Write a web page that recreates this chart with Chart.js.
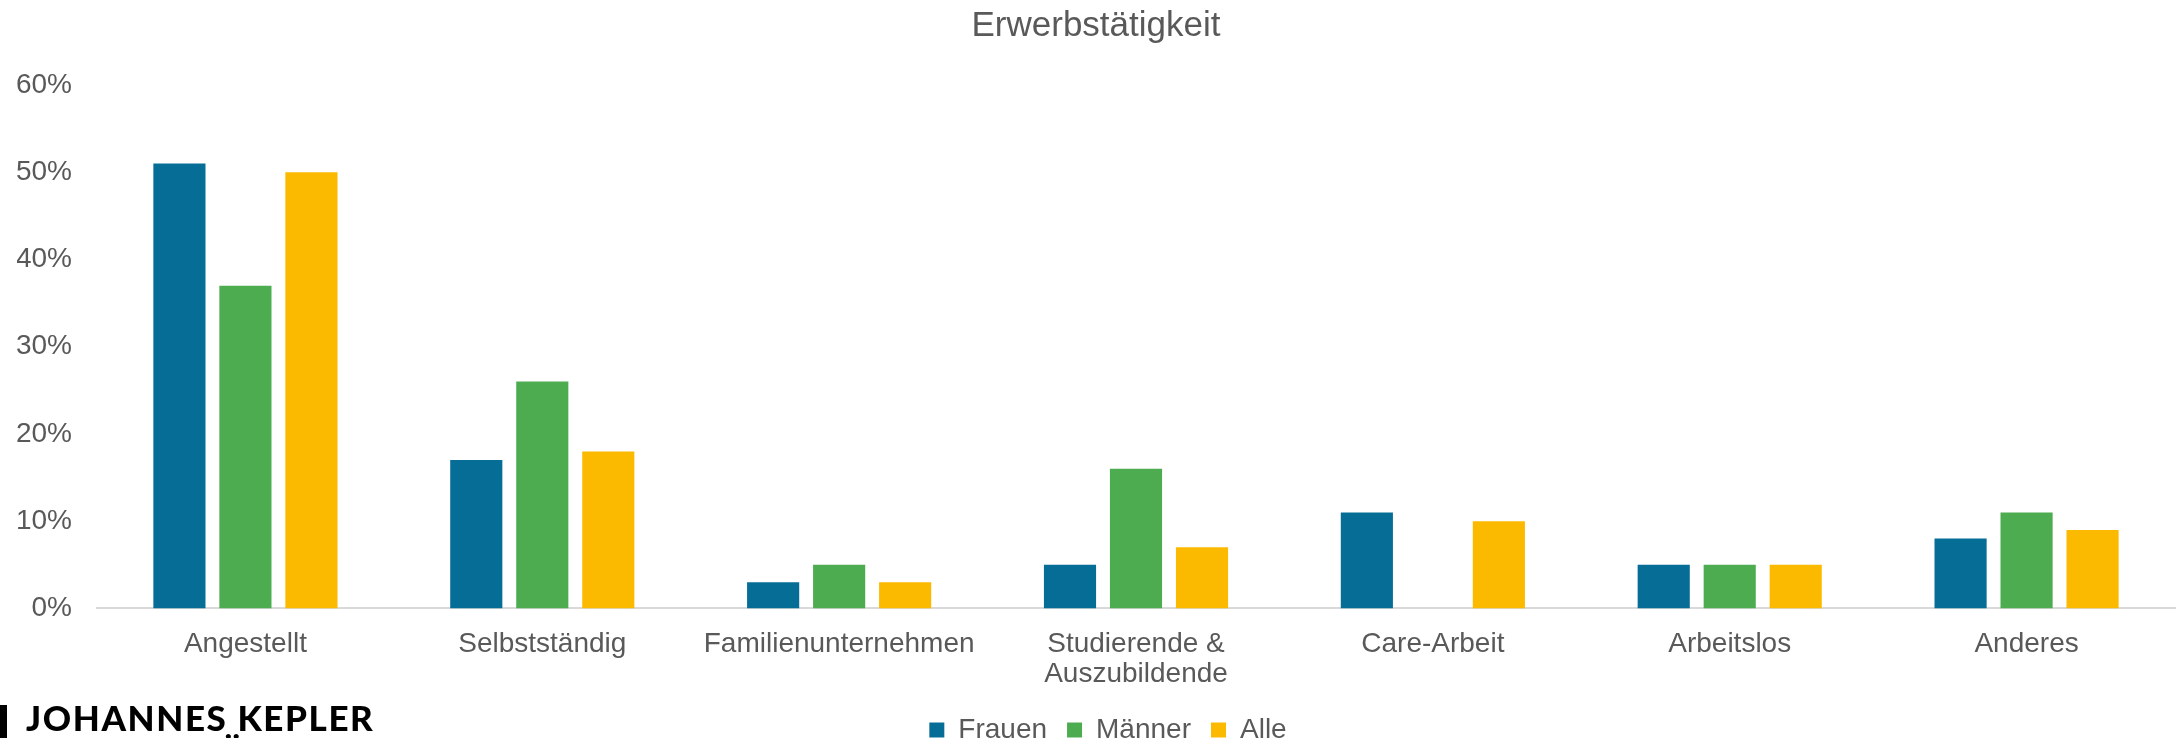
<!DOCTYPE html>
<html>
<head>
<meta charset="utf-8">
<script src="https://cdn.jsdelivr.net/npm/chart.js@4/dist/chart.umd.min.js"></script>
<style>
  html, body { margin: 0; padding: 0; background: #fff; overflow: hidden; }
  #wrap { position: relative; width: 2179px; height: 760px; }
  #logo { position: absolute; left: 0; top: 699px; font-family: Lato, "Open Sans", sans-serif; font-weight: 900; color: #000; }
  #logo .bar { position: absolute; left: 0; top: 6px; width: 7px; height: 60px; background: #000; }
  #logo .l1 { position: absolute; left: 26px; top: 0; font-size: 35px; letter-spacing: 1.6px; white-space: nowrap; line-height: 36px; }
  #logo .l2 { position: absolute; left: 26px; top: 34px; font-size: 35px; letter-spacing: 1.6px; white-space: nowrap; line-height: 36px; }
</style>
</head>
<body>
<div id="wrap">
  <canvas id="erwerbChart"></canvas>
  <div id="logo"><div class="bar"></div><div class="l1">JOHANNES KEPLER</div><div class="l2">UNIVERSITÄT LINZ</div></div>
</div>
<script>
// categories
var labels = ['Angestellt', 'Selbstständig', 'Familienunternehmen', ['Studierende &', 'Auszubildende'], 'Care-Arbeit', 'Arbeitslos', 'Anderes'];

// series values (percent)
var frauen = [51, 17, 3, 5, 11, 5, 8];
var maenner = [37, 26, 5, 16, 0, 5, 11];
var alle = [50, 18, 3, 7, 10, 5, 9];

var seriesNames = ['Frauen', 'Männer', 'Alle'];
var colourChoice = ['#066E96', '#4EAC50', '#FBBA00'];

var greyText = '#595959';
var fontFam = 'Arial, "Liberation Sans", sans-serif';

// nudge the legend a bit up and right, like the original
var legendShift = {
  id: 'legendShift',
  afterLayout: function (chart) {
    var lg = chart.legend;
    lg.top -= 6; lg.bottom -= 6;
    lg.left += 12; lg.right += 12;
  }
};

function renderBarChart(id) {
  var ctx = document.getElementById(id).getContext('2d');
  var myChart = new Chart(ctx, {
    type: 'bar',
    data: {
      labels: labels,
      datasets: [
        { label: seriesNames[0], data: frauen, backgroundColor: colourChoice[0] },
        { label: seriesNames[1], data: maenner, backgroundColor: colourChoice[1] },
        { label: seriesNames[2], data: alle, backgroundColor: colourChoice[2] }
      ]
    },
    plugins: [legendShift],
    options: {
      responsive: true,
      maintainAspectRatio: false,
      animation: false,
      datasets: {
        bar: { categoryPercentage: 0.667, barPercentage: 0.79 }
      },
      layout: {
        padding: { left: 17, right: 4, top: 0, bottom: 0 }
      },
      plugins: {
        title: {
          display: true,
          text: 'Erwerbstätigkeit',
          color: greyText,
          font: { family: fontFam, size: 35, weight: 'normal' },
          padding: { top: 5, bottom: 38 }
        },
        legend: {
          display: true,
          position: 'bottom',
          labels: {
            color: greyText,
            font: { family: fontFam, size: 28 },
            boxWidth: 15,
            boxHeight: 15,
            padding: 20
          }
        },
        tooltip: { enabled: false }
      },
      scales: {
        x: {
          grid: { display: false },
          border: { display: true, color: '#D9D9D9', width: 2 },
          ticks: {
            color: greyText,
            font: { family: fontFam, size: 28, lineHeight: 1.1 },
            padding: 12,
            maxRotation: 0,
            autoSkip: false
          }
        },
        y: {
          min: 0,
          max: 60,
          grid: { display: false },
          border: { display: false },
          afterFit: function (scale) { scale.width = 80; },
          ticks: {
            stepSize: 10,
            color: greyText,
            font: { family: fontFam, size: 28 },
            padding: 17,
            callback: function (v) { return v + '%'; }
          }
        }
      }
    }
  });
}

renderBarChart('erwerbChart');
</script>
</body>
</html>
